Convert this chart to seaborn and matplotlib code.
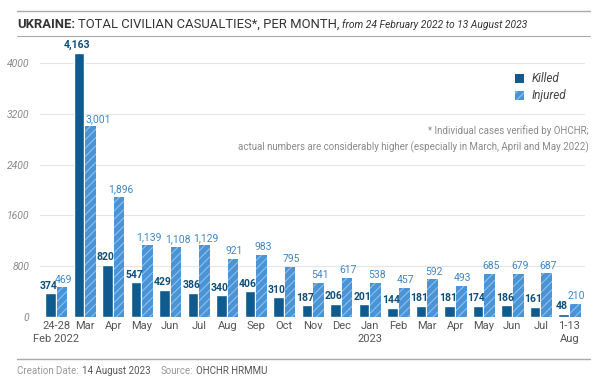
import matplotlib
matplotlib.use("Agg")
import matplotlib.pyplot as plt
import seaborn as sns
import pandas as pd
from matplotlib.patches import Patch
from matplotlib.lines import Line2D

months = ["24-28", "Mar", "Apr", "May", "Jun", "Jul", "Aug", "Sep", "Oct", "Nov",
          "Dec", "Jan", "Feb", "Mar", "Apr", "May", "Jun", "Jul", "1-13"]
month_line2 = ["Feb 2022", "", "", "", "", "", "", "", "", "",
               "", "2023", "", "", "", "", "", "", "Aug"]
killed = [374, 4163, 820, 547, 429, 386, 340, 406, 310, 187, 206, 201, 144, 181, 181, 174, 186, 161, 48]
injured = [469, 3001, 1896, 1139, 1108, 1129, 921, 983, 795, 541, 617, 538, 457, 592, 493, 685, 679, 687, 210]
yticks = [0, 800, 1600, 2400, 3200, 4000]

sns.set_theme(style="white")
plt.rcParams['font.family'] = ['Roboto', 'DejaVu Sans']
plt.rcParams['hatch.color'] = "#8cc0ee"
plt.rcParams['hatch.linewidth'] = 0.8

c_k = "#0f5a8e"
c_i = "#4a94d6"

n = len(months)
keys = [f"m{i}" for i in range(n)]
df = pd.DataFrame({
    "month": keys * 2,
    "value": killed + injured,
    "type": ["Killed"] * n + ["Injured"] * n,
})

fig = plt.figure(figsize=(6.10, 3.82), dpi=100)
ax = fig.add_axes([0.066, 0.170, 0.893, 0.715])
sns.barplot(data=df, x="month", y="value", hue="type", order=keys,
            palette={"Killed": c_k, "Injured": c_i}, width=0.82, gap=0.08,
            ax=ax, legend=False, saturation=1)

containers = ax.containers
for bar in containers[1]:
    bar.set_hatch("////")
    bar.set_edgecolor("#8cc0ee")
    bar.set_linewidth(0)

for bar, v in zip(containers[0], killed):
    ax.text(bar.get_x() + bar.get_width() / 2 - 0.06, v + 40, f"{v:,}", ha="center", va="bottom",
            fontsize=7.5, fontweight="bold", color="#0d4f7c")
for bar, v, k in zip(containers[1], injured, killed):
    if k > v:
        ax.text(bar.get_x(), v + 40, f"{v:,}", ha="left", va="bottom",
                fontsize=7.5, color="#3f87c4")
    else:
        ax.text(bar.get_x() + bar.get_width() / 2 + 0.05, v + 40, f"{v:,}", ha="center", va="bottom",
                fontsize=7.5, color="#3f87c4")

ax.set_xlim(-0.56, n - 0.45)
ax.set_ylim(0, 4300)
ax.set_yticks(yticks)
ax.set_yticklabels([str(t) for t in yticks], fontstyle="italic", color="#8a8a8a", fontsize=7.5)
ax.set_xticks(range(n))
ax.set_xticklabels(months, color="#555555", fontsize=8)
ax.tick_params(axis="both", length=0, pad=3)
ax.tick_params(axis="y", pad=8)
for i, s in enumerate(month_line2):
    if s:
        ax.annotate(s, xy=(i, 0), xycoords=("data", "axes fraction"), xytext=(0, -12.3),
                    textcoords="offset points", ha="center", va="top", fontsize=8, color="#555555")
ax.set_xlabel("")
ax.set_ylabel("")
ax.grid(axis="y", color="#e6e6e6", linewidth=0.8)
ax.set_axisbelow(True)
for s in ax.spines.values():
    s.set_visible(False)

# legend
handles = [Patch(facecolor=c_k, edgecolor="none", label="Killed"),
           Patch(facecolor=c_i, edgecolor="#8cc0ee", hatch="////", linewidth=0, label="Injured")]
leg = ax.legend(handles=handles, loc="upper right", bbox_to_anchor=(0.985, 0.935), frameon=False,
                handlelength=0.8, handleheight=0.8, handletextpad=0.6, labelspacing=0.35,
                prop={"style": "italic", "size": 8.5})
for t in leg.get_texts():
    t.set_color("#444444")

fig.text(0.965, 0.636, "* Individual cases verified by OHCHR;\nactual numbers are considerably higher (especially in March, April and May 2022)",
         ha="right", va="center", fontsize=7.0, color="#8a8a8a", linespacing=1.6)

# header lines and title
fig.add_artist(Line2D([0.028, 0.967], [0.971, 0.971], color="#aaaaaa", linewidth=1))
fig.add_artist(Line2D([0.028, 0.967], [0.906, 0.906], color="#aaaaaa", linewidth=0.8))
fig.add_artist(Line2D([0.028, 0.967], [0.060, 0.060], color="#aaaaaa", linewidth=1))

fig.canvas.draw()
r = fig.canvas.get_renderer()
W = fig.bbox.width
t1 = fig.text(0.028, 0.937, "UKRAINE:", ha="left", va="center", fontsize=9.4, fontweight="bold", color="#333333")
bb = t1.get_window_extent(r)
t2 = fig.text((bb.x1 + 3) / W, 0.937, "TOTAL CIVILIAN CASUALTIES*, PER MONTH,", ha="left", va="center",
              fontsize=9.4, color="#333333")
bb2 = t2.get_window_extent(r)
fig.text((bb2.x1 + 3) / W, 0.935, "from 24 February 2022 to 13 August 2023", ha="left", va="center", fontsize=7.4,
         fontstyle="italic", color="#333333")

f1 = fig.text(0.028, 0.029, "Creation Date:", ha="left", va="center", fontsize=7, color="#999999")
bb = f1.get_window_extent(r)
f2 = fig.text((bb.x1 + 3) / W, 0.029, "14 August 2023", ha="left", va="center", fontsize=7, color="#555555")
bb = f2.get_window_extent(r)
f3 = fig.text((bb.x1 + 10) / W, 0.029, "Source:", ha="left", va="center", fontsize=7, color="#999999")
bb = f3.get_window_extent(r)
fig.text((bb.x1 + 3) / W, 0.029, "OHCHR HRMMU", ha="left", va="center", fontsize=7, color="#555555")

fig.savefig("out.png", dpi=100, facecolor="white")
